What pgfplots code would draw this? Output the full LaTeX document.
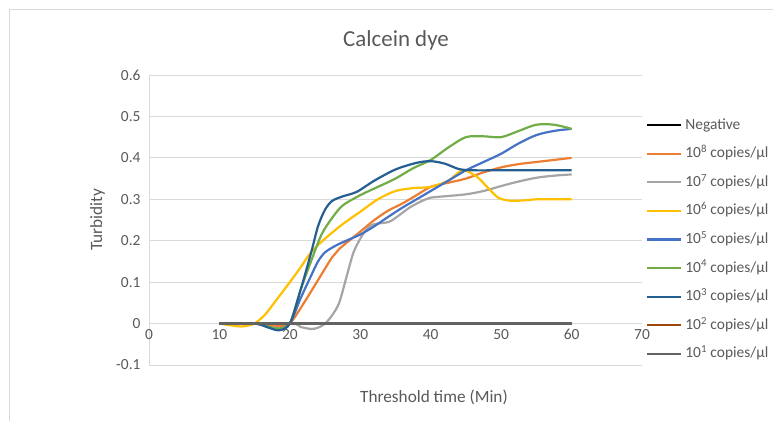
\documentclass[border=0pt]{standalone}
\usepackage{fontspec}
\setmainfont{Carlito}
\usepackage{pgfplots}
\pgfplotsset{compat=1.18}
\definecolor{cneg}{HTML}{000000}
\definecolor{ceight}{HTML}{ED7D31}
\definecolor{cseven}{HTML}{A5A5A5}
\definecolor{csix}{HTML}{FFC000}
\definecolor{cfive}{HTML}{4472C4}
\definecolor{cfour}{HTML}{70AD47}
\definecolor{cthree}{HTML}{255E91}
\definecolor{ctwo}{HTML}{9E480E}
\definecolor{cone}{HTML}{636363}
\definecolor{txt}{HTML}{595959}
\definecolor{grd}{HTML}{D9D9D9}
\begin{document}
\begin{tikzpicture}[x=1bp,y=1bp]
\useasboundingbox (0,0) rectangle (773,420);
\draw[grd, line width=0.75bp] (9,-5) rectangle (790,411);
\begin{axis}[
    at={(149bp,55bp)}, anchor=south west,
    scale only axis, width=493bp, height=290bp,
    xmin=0, xmax=70, ymin=-0.1, ymax=0.6,
    xtick={0,10,20,30,40,50,60,70},
    ytick={-0.1,0,0.1,0.2,0.3,0.4,0.5,0.6},
    axis x line=middle, axis y line=left,
    hide obscured x ticks=false, hide obscured y ticks=false,
    x axis line style={-, draw=grd, line width=0.75bp},
    y axis line style={-, draw=grd, line width=0.75bp},
    major tick length=0pt,
    ymajorgrids, major grid style={draw=grd, line width=0.75bp},
    tick label style={font=\fontsize{15.5}{18}\selectfont, text=txt},
    /pgf/number format/assume math mode=true,
    /pgf/number format/fixed,
    yticklabel style={xshift=-5bp},
    xticklabel style={yshift=-2bp},
    legend cell align=left,
    legend style={at={(1.008,0.852)}, anchor=north west, draw=none, fill=none,
        inner sep=0pt, font=\fontsize{15.5}{18}\selectfont, text=txt,
        nodes={inner sep=0pt, text height=11bp, text depth=3bp},
        row sep=14.6bp,
        /tikz/every odd column/.append style={column sep=3bp}},
    legend image code/.code={\draw[#1] (0bp,0bp) -- (34bp,0bp);},
    every axis plot/.append style={line width=2.2bp},
]
\addplot[cneg, no marks] coordinates {(10,0) (60,0)};
\addlegendentry{Negative}
\addplot[ceight, smooth, no marks] coordinates {
(10,0)(15,0)(17,-0.004)(18.5,-0.005)(20,0)(22,0.05)(24,0.105)(26,0.16)(27,0.18)
(29.5,0.215)(32,0.25)(34,0.273)(36,0.29)(38,0.31)(40,0.33)(42.5,0.34)(45,0.35)
(47.5,0.365)(50,0.377)(52.5,0.385)(55,0.39)(57.5,0.395)(60,0.40)};
\addlegendentry{10\textsuperscript{8} copies/µl}
\addplot[cseven, smooth, no marks] coordinates {
(10,0)(20,0)(21.5,-0.008)(23,-0.013)(24,-0.01)(25,0)(26,0.02)(27,0.05)(28,0.11)
(29,0.17)(30,0.205)(31,0.23)(32,0.24)(34,0.245)(35,0.255)(37,0.28)(39,0.298)
(40,0.304)(42.5,0.308)(45,0.312)(47.5,0.32)(50,0.332)(52.5,0.343)(55,0.352)
(57.5,0.357)(60,0.36)};
\addlegendentry{10\textsuperscript{7} copies/µl}
\addplot[csix, smooth, no marks] coordinates {
(10,0)(11.5,-0.004)(13,-0.007)(14,-0.005)(15,0)(16.5,0.022)(18,0.055)(20,0.1)
(21.5,0.135)(23,0.172)(25,0.205)(27.5,0.24)(30,0.27)(32.5,0.3)(35,0.32)(37.5,0.327)
(40,0.33)(42.5,0.345)(44.5,0.37)(46.5,0.355)(48,0.33)(49.5,0.305)(51,0.297)
(53,0.297)(55,0.3)(57.5,0.3)(60,0.30)};
\addlegendentry{10\textsuperscript{6} copies/µl}
\addplot[cfive, smooth, no marks] coordinates {
(10,0)(15,0)(17,-0.008)(18.5,-0.012)(20,0)(21.5,0.06)(23,0.115)(24,0.15)(25,0.172)
(26.5,0.188)(28,0.2)(30,0.215)(32,0.235)(34,0.258)(36,0.28)(38,0.3)(40,0.32)
(42.5,0.345)(45,0.37)(47.5,0.39)(50,0.41)(52.5,0.435)(55,0.455)(57.5,0.465)(60,0.47)};
\addlegendentry{10\textsuperscript{5} copies/µl}
\addplot[cfour, smooth, no marks] coordinates {
(10,0)(15,0)(17,-0.008)(18.5,-0.012)(20,0)(21.5,0.08)(23,0.15)(24.5,0.215)
(26,0.255)(27.5,0.285)(30,0.31)(32.5,0.33)(35,0.35)(37.5,0.375)(40,0.395)
(42.5,0.425)(45,0.45)(47.5,0.452)(50,0.45)(52.5,0.465)(55,0.48)(57.5,0.48)(60,0.47)};
\addlegendentry{10\textsuperscript{4} copies/µl}
\addplot[cthree, smooth, no marks] coordinates {
(10,0)(15,0)(17,-0.01)(18.5,-0.016)(20,0)(21.5,0.08)(23,0.17)(24,0.235)(25,0.275)
(26,0.296)(27.5,0.307)(29.5,0.318)(32,0.345)(35,0.372)(38,0.388)(40,0.392)
(42,0.386)(44,0.373)(46,0.37)(50,0.37)(55,0.37)(60,0.37)};
\addlegendentry{10\textsuperscript{3} copies/µl}
\addplot[ctwo, no marks] coordinates {(10,0) (60,0)};
\addlegendentry{10\textsuperscript{2} copies/µl}
\addplot[cone, no marks] coordinates {(10,0) (60,0)};
\addlegendentry{10\textsuperscript{1} copies/µl}
\end{axis}
\node[text=txt, font=\fontsize{23}{27}\selectfont] at (396,380) {Calcein dye};
\node[text=txt, font=\fontsize{17.3}{20}\selectfont] at (434,23) {Threshold time (Min)};
\node[text=txt, font=\fontsize{17.3}{20}\selectfont, rotate=90] at (97.5,200) {Turbidity};
\end{tikzpicture}
\end{document}
